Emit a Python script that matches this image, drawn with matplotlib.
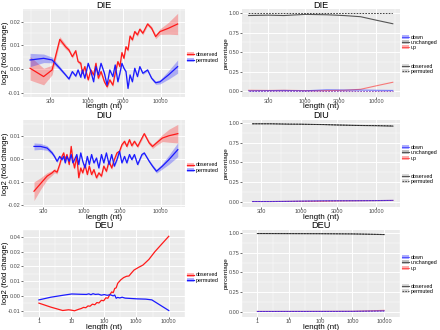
import matplotlib.pyplot as plt
import numpy as np
from matplotlib.patches import Patch
from matplotlib.lines import Line2D

plt.rcParams['font.family'] = ['Liberation Sans', 'DejaVu Sans']

# ---------------- data ----------------
# DIE, left panel (log2 fold change vs length)
die_len = [158, 243, 318, 406, 488, 543, 604, 673, 725, 790, 834, 898, 1000, 1089,
           1187, 1279, 1380, 1503, 1672, 1821, 1985, 2187, 2357, 2566, 2735, 2917,
           3111, 3318, 3539, 3775, 4067, 4384, 4778, 5151, 5666, 6586, 7489, 8511,
           9790, 12800, 17100]
die_obs = [0.0003, -0.0032, -0.0004, 0.0125, 0.0094, 0.0080, 0.0052, 0.0077, 0.0031,
           0.0024, -0.0018, 0.0010, -0.0046, -0.0004, -0.0025, 0.0024, -0.0039, -0.0011,
           -0.0054, -0.0075, -0.0046, -0.0068, -0.0018, 0.0031, 0.0010, 0.0069, 0.0045,
           0.0094, 0.0080, 0.0139, 0.0123, 0.0158, 0.0144, 0.0168, 0.0151, 0.0190,
           0.0172, 0.0137, 0.0158, 0.0172, 0.0190]
die_obs_se = [0.005, 0.0035, 0.002, 0.0012, 0.001, 0.0008, 0.0007, 0.0007, 0.0007,
              0.0007, 0.0007, 0.0007, 0.0007, 0.0007, 0.0007, 0.0007, 0.0007, 0.0007,
              0.0007, 0.0007, 0.0007, 0.0007, 0.0007, 0.0007, 0.0007, 0.0007, 0.0007,
              0.0007, 0.0007, 0.0007, 0.0007, 0.0007, 0.0007, 0.0007, 0.0007, 0.0007,
              0.0008, 0.0009, 0.0012, 0.0025, 0.0045]
die_perm = [0.0038, 0.0045, 0.0038, 0.0003, -0.0025, -0.0042, -0.0011, -0.0030, -0.0004,
            -0.0035, -0.0004, -0.0039, 0.0024, -0.0011, -0.0054, 0.0010, -0.0025, 0.0024,
            -0.0018, -0.0068, -0.0004, -0.0032, 0.0017, -0.0054, -0.0018, 0.0024, 0.0003,
            -0.0011, -0.0082, -0.0025, -0.0054, 0.0003, -0.0032, 0.0010, -0.0018, -0.0004,
            -0.0039, -0.0058, -0.0054, -0.0025, 0.0010]
die_perm_se = [0.0028, 0.0018, 0.0012, 0.0008, 0.0006, 0.0005, 0.0005, 0.0005, 0.0005,
               0.0005, 0.0005, 0.0005, 0.0005, 0.0005, 0.0005, 0.0005, 0.0005, 0.0005,
               0.0005, 0.0005, 0.0005, 0.0005, 0.0005, 0.0005, 0.0005, 0.0005, 0.0005,
               0.0005, 0.0005, 0.0005, 0.0005, 0.0005, 0.0005, 0.0005, 0.0005, 0.0005,
               0.0006, 0.0007, 0.0009, 0.0018, 0.0028]

# DIU, left panel
diu_len = [230, 280, 340, 394, 423, 457, 494, 529, 556, 583, 613, 656, 696, 731, 768,
           822, 872, 925, 981, 1050, 1125, 1193, 1277, 1368, 1479, 1585, 1714, 1836,
           1985, 2148, 2323, 2512, 2716, 2937, 3148, 3404, 3648, 3945, 4227, 4571,
           5035, 5719, 6124, 7096, 7834, 8811, 10500, 12760, 16630]
diu_obs = [-0.0139, -0.0106, -0.0074, -0.0060, -0.0050, -0.0057, -0.0024, 0.0011, 0.0026,
           -0.0003, 0.0019, -0.0024, 0.0054, -0.0003, -0.0039, 0.0011, -0.0081, -0.0039,
           -0.0060, -0.0024, -0.0067, -0.0031, -0.0067, -0.0046, -0.0081, -0.0060, -0.0074,
           -0.0031, -0.0053, -0.0010, -0.0039, -0.0003, 0.0026, 0.0033, 0.0061, 0.0076,
           0.0054, 0.0083, 0.0057, 0.0076, 0.0054, 0.0090, 0.0109, 0.0069, 0.0054,
           0.0069, 0.0090, 0.0100, 0.0109]
diu_obs_se = [0.004, 0.0025, 0.0015, 0.001, 0.0009, 0.0008, 0.0007, 0.0007, 0.0007,
              0.0007, 0.0007, 0.0007, 0.0007, 0.0007, 0.0007, 0.0007, 0.0007, 0.0007,
              0.0007, 0.0007, 0.0007, 0.0007, 0.0007, 0.0007, 0.0007, 0.0007, 0.0007,
              0.0007, 0.0007, 0.0007, 0.0007, 0.0007, 0.0007, 0.0007, 0.0007, 0.0007,
              0.0007, 0.0007, 0.0007, 0.0007, 0.0007, 0.0007, 0.0007, 0.0008, 0.0009,
              0.001, 0.0015, 0.0028, 0.004]
diu_perm = [0.0054, 0.0054, 0.0047, 0.0026, 0.0011, -0.0010, 0.0011, -0.0003, 0.0011,
            -0.0017, 0.0011, -0.0010, 0.0019, -0.0017, -0.0003, 0.0019, -0.0024, 0.0026,
            -0.0010, -0.0039, 0.0011, -0.0024, 0.0019, -0.0017, 0.0004, -0.0039, 0.0019,
            -0.0017, 0.0026, -0.0024, 0.0019, -0.0031, -0.0003, 0.0033, -0.0017, 0.0011,
            -0.0017, 0.0019, -0.0003, 0.0019, -0.0024, 0.0019, 0.0026, -0.0010, -0.0031,
            -0.0053, -0.0031, -0.0003, 0.0040]
diu_perm_se = [0.0015, 0.0013, 0.001, 0.0008, 0.0007, 0.0006, 0.0005, 0.0005, 0.0005,
               0.0005, 0.0005, 0.0005, 0.0005, 0.0005, 0.0005, 0.0005, 0.0005, 0.0005,
               0.0005, 0.0005, 0.0005, 0.0005, 0.0005, 0.0005, 0.0005, 0.0005, 0.0005,
               0.0005, 0.0005, 0.0005, 0.0005, 0.0005, 0.0005, 0.0005, 0.0005, 0.0005,
               0.0005, 0.0005, 0.0005, 0.0005, 0.0005, 0.0005, 0.0005, 0.0006, 0.0007,
               0.0008, 0.0012, 0.002, 0.003]

# DEU, left panel
deu_obs_len = [1, 2.32, 5.4, 8.2, 10.2, 12.5, 14.8, 17.2, 19.9, 23.6, 27.9, 32.4, 37.5,
               44.4, 52.6, 61, 70.6, 83.6, 98.9, 115, 133, 151, 175, 194, 216, 240, 267,
               329, 406, 501, 594, 688, 849, 1165, 1600, 2437, 3715, 5664, 10000]
deu_obs = [-0.0049, -0.0076, -0.0099, -0.0094, -0.0097, -0.0101, -0.0095, -0.0090,
           -0.0086, -0.0078, -0.0080, -0.0068, -0.0070, -0.0056, -0.0060, -0.0045,
           -0.0048, -0.0030, -0.0033, -0.0013, -0.0016, 0.0007, 0.0027, 0.0022, 0.0050,
           0.0055, 0.0085, 0.0108, 0.0124, 0.0133, 0.0135, 0.0152, 0.0175, 0.0193,
           0.0209, 0.0247, 0.0299, 0.0344, 0.0404]
deu_perm_len = [1, 2.32, 5.4, 10.2, 19.1, 29.1, 34.5, 40, 46.3, 54.8, 67.7, 83.6, 103,
                127, 157, 194, 216, 240, 267, 309, 366, 451, 1050, 1972, 3008, 5664, 10000]
deu_perm = [-0.0027, -0.0009, 0.0004, 0.0013, 0.0011, 0.0010, 0.0014, 0.0008, 0.0015,
            0.0010, 0.0012, 0.0005, 0.0009, 0.0004, 0.0008, 0.0000, 0.0006, -0.0016,
            -0.0010, -0.0014, -0.0009, -0.0015, -0.0020, -0.0022, -0.0027, -0.0065, -0.0099]

# right panels (fraction of genes per class)
die_p_len = [160, 300, 500, 1000, 2000, 3500, 6000, 10000, 17000]
die_unch_obs = [0.97, 0.975, 0.97, 0.985, 0.98, 0.97, 0.955, 0.91, 0.865]
die_unch_perm = [0.995, 0.995, 0.995, 0.996, 0.996, 0.996, 0.996, 0.996, 0.996]
die_up_obs = [0.012, 0.01, 0.012, 0.008, 0.008, 0.012, 0.025, 0.07, 0.115]
die_down_obs = [0.005, 0.008, 0.01, 0.006, 0.018, 0.015, 0.015, 0.012, 0.01]
die_up_perm = [0.002, 0.002, 0.002, 0.002, 0.002, 0.002, 0.002, 0.002, 0.002]
die_down_perm = [0.002, 0.002, 0.002, 0.002, 0.002, 0.002, 0.002, 0.002, 0.002]

diu_p_len = [230, 400, 700, 1000, 2000, 3000, 5000, 10000, 16600]
diu_unch_obs = [0.995, 0.995, 0.99, 0.99, 0.985, 0.98, 0.975, 0.97, 0.965]
diu_unch_perm = [0.995, 0.995, 0.992, 0.99, 0.985, 0.98, 0.975, 0.972, 0.968]
diu_up_obs = [0.0, 0.0, 0.002, 0.003, 0.005, 0.008, 0.01, 0.012, 0.014]
diu_down_obs = [0.0, 0.0, 0.003, 0.006, 0.01, 0.01, 0.01, 0.012, 0.015]
diu_up_perm = [0.001, 0.001, 0.002, 0.003, 0.005, 0.008, 0.01, 0.012, 0.014]
diu_down_perm = [0.001, 0.001, 0.002, 0.004, 0.008, 0.009, 0.01, 0.011, 0.013]

deu_p_len = [1, 10, 100, 1000, 3000, 10000]
deu_unch_obs = [0.998, 0.997, 0.996, 0.993, 0.99, 0.985]
deu_unch_perm = [0.998, 0.997, 0.996, 0.994, 0.99, 0.987]
deu_up_obs = [0.001, 0.001, 0.002, 0.003, 0.008, 0.015]
deu_down_obs = [0.001, 0.002, 0.002, 0.003, 0.006, 0.008]
deu_up_perm = [0.001, 0.001, 0.001, 0.002, 0.004, 0.006]
deu_down_perm = [0.001, 0.001, 0.001, 0.002, 0.004, 0.006]

RED = '#FF1A1A'
BLUE = '#1A1AFF'
GREY = '#555555'
TXT = '#4D4D4D'
LEG = dict(frameon=False, fontsize=3.9, handlelength=1.3, handleheight=0.8,
           labelspacing=0.05, handletextpad=0.25, borderaxespad=0.25, borderpad=0.1,
           loc='center left')


def style(ax, xt, xl, yt, yl, ylim, title, ylabel, ylab_x, ylab_size):
    ax.set_facecolor('#EBEBEB')
    ax.set_xscale('log')
    for s in ax.spines.values():
        s.set_visible(False)
    lx = np.log10(xt)
    minors = [lx[0] - (lx[1] - lx[0]) / 2] + list((lx[:-1] + lx[1:]) / 2) + \
             [lx[-1] + (lx[-1] - lx[-2]) / 2]
    ax.set_xticks(xt)
    ax.set_xticklabels(xl)
    ax.set_xticks([10 ** m for m in minors], minor=True)
    ax.set_xticklabels([], minor=True)
    ax.set_yticks(yt)
    ax.set_yticklabels(yl)
    d = yt[1] - yt[0]
    ym = [yt[0] - d / 2] + [(a + b) / 2 for a, b in zip(yt[:-1], yt[1:])] + [yt[-1] + d / 2]
    ax.set_yticks(ym, minor=True)
    ax.set_yticklabels([], minor=True)
    ax.set_ylim(ylim)
    ax.grid(which='major', color='white', lw=0.7)
    ax.grid(which='minor', color='white', lw=0.35)
    ax.set_axisbelow(True)
    ax.tick_params(which='minor', length=0)
    ax.tick_params(which='major', length=1.2, width=0.5, color='#333333',
                   labelsize=4.0, labelcolor=TXT, pad=0.3)
    ax.set_xlabel('length (nt)', fontsize=5.8)
    ax.xaxis.label.set_va('top')
    ax.xaxis.set_label_coords(0.5, -0.075)
    ax.set_ylabel(ylabel, fontsize=ylab_size)
    ax.yaxis.label.set_va('center')
    ax.yaxis.set_label_coords(ylab_x, 0.5)
    ax.text(0.5, 1.012, title, transform=ax.transAxes, ha='center', va='baseline',
            fontsize=6.6)


def left(ax, title, xo, yo, so, xp, yp, sp, xt, xl, yt, yl, ylim):
    if so is not None:
        ax.fill_between(xo, np.array(yo) - so, np.array(yo) + so, color=RED, alpha=0.3, lw=0)
        ax.fill_between(xp, np.array(yp) - sp, np.array(yp) + sp, color=BLUE, alpha=0.3, lw=0)
    ax.plot(xo, yo, color=RED, lw=0.9)
    ax.plot(xp, yp, color=BLUE, lw=0.9)
    ax.margins(x=0.05)
    style(ax, xt, xl, yt, yl, ylim, title, 'log2 (fold change)', -0.106, 5.6)
    h = [(Patch(facecolor=RED, alpha=0.3), Line2D([], [], color=RED, lw=0.9)),
         (Patch(facecolor=BLUE, alpha=0.3), Line2D([], [], color=BLUE, lw=0.9))]
    ax.legend(h, ['observed', 'permuted'], bbox_to_anchor=(1.0, 0.45), **LEG)


def right(ax, title, x, uo, up_, do, dp, no, npm, xt, xl):
    ax.plot(x, uo, color=GREY, lw=0.8)
    ax.plot(x, up_, color='#222222', lw=0.6, ls=(0, (2, 1.5)))
    ax.plot(x, no, color=RED, lw=0.8, alpha=0.55)
    ax.plot(x, npm, color=RED, lw=0.6, alpha=0.55, ls=(0, (2, 1.5)))
    ax.plot(x, do, color=BLUE, lw=0.8, alpha=0.55)
    ax.plot(x, dp, color=BLUE, lw=0.6, alpha=0.55, ls=(0, (2, 1.5)))
    ax.margins(x=0.05)
    style(ax, xt, xl, [0, 0.25, 0.5, 0.75, 1.0],
          ['0.00', '0.25', '0.50', '0.75', '1.00'], (-0.07, 1.05), title,
          'percentage', -0.098, 4.6)
    h1 = [(Patch(facecolor=BLUE, alpha=0.35), Line2D([], [], color=BLUE, lw=0.8, alpha=0.6)),
          (Patch(facecolor='#999999', alpha=0.6), Line2D([], [], color=GREY, lw=0.8)),
          (Patch(facecolor=RED, alpha=0.35), Line2D([], [], color=RED, lw=0.8, alpha=0.6))]
    l1 = ax.legend(h1, ['down', 'unchanged', 'up'], bbox_to_anchor=(1.0, 0.62), **LEG)
    ax.add_artist(l1)
    h2 = [(Patch(facecolor='#D9D9D9'), Line2D([], [], color=GREY, lw=0.8)),
          (Patch(facecolor='#D9D9D9'), Line2D([], [], color=GREY, lw=0.8, ls=(0, (1.5, 1))))]
    ax.legend(h2, ['observed', 'permuted'], bbox_to_anchor=(1.0, 0.32), **LEG)


fig = plt.figure(figsize=(4.4, 3.3), dpi=100)
rows = [(9.3, 96.7), (119.5, 207), (229.5, 317)]
axes = []
for top, bot in rows:
    b = 1 - bot / 330
    h = (bot - top) / 330
    axl = fig.add_axes([22.7 / 440, b, (185 - 22.7) / 440, h])
    axr = fig.add_axes([241.5 / 440, b, (400 - 241.5) / 440, h])
    axes.append((axl, axr))

xt1 = [300, 1000, 3000, 10000]
xl1 = ['300', '1000', '3000', '10000']
left(axes[0][0], 'DIE', die_len, die_obs, die_obs_se, die_len, die_perm, die_perm_se,
     xt1, xl1, [-0.01, 0.0, 0.01, 0.02], ['-0.01', '0.00', '0.01', '0.02'], (-0.0117, 0.0252))
left(axes[1][0], 'DIU', diu_len, diu_obs, diu_obs_se, diu_len, diu_perm, diu_perm_se,
     xt1, xl1, [-0.02, -0.01, 0.0, 0.01], ['-0.02', '-0.01', '0.00', '0.01'], (-0.0207, 0.017))
xt5 = [1, 10, 100, 1000, 10000]
xl5 = ['1', '10', '100', '1000', '10000']
left(axes[2][0], 'DEU', deu_obs_len, deu_obs, None, deu_perm_len, deu_perm, None,
     xt5, xl5, [-0.01, 0.0, 0.01, 0.02, 0.03, 0.04],
     ['-0.01', '0.00', '0.01', '0.02', '0.03', '0.04'], (-0.0143, 0.045))

right(axes[0][1], 'DIE', die_p_len, die_unch_obs, die_unch_perm, die_down_obs,
      die_down_perm, die_up_obs, die_up_perm, xt1, xl1)
right(axes[1][1], 'DIU', diu_p_len, diu_unch_obs, diu_unch_perm, diu_down_obs,
      diu_down_perm, diu_up_obs, diu_up_perm, xt1, xl1)
right(axes[2][1], 'DEU', deu_p_len, deu_unch_obs, deu_unch_perm, deu_down_obs,
      deu_down_perm, deu_up_obs, deu_up_perm, xt5, xl5)

fig.savefig('out.png', dpi=100)
